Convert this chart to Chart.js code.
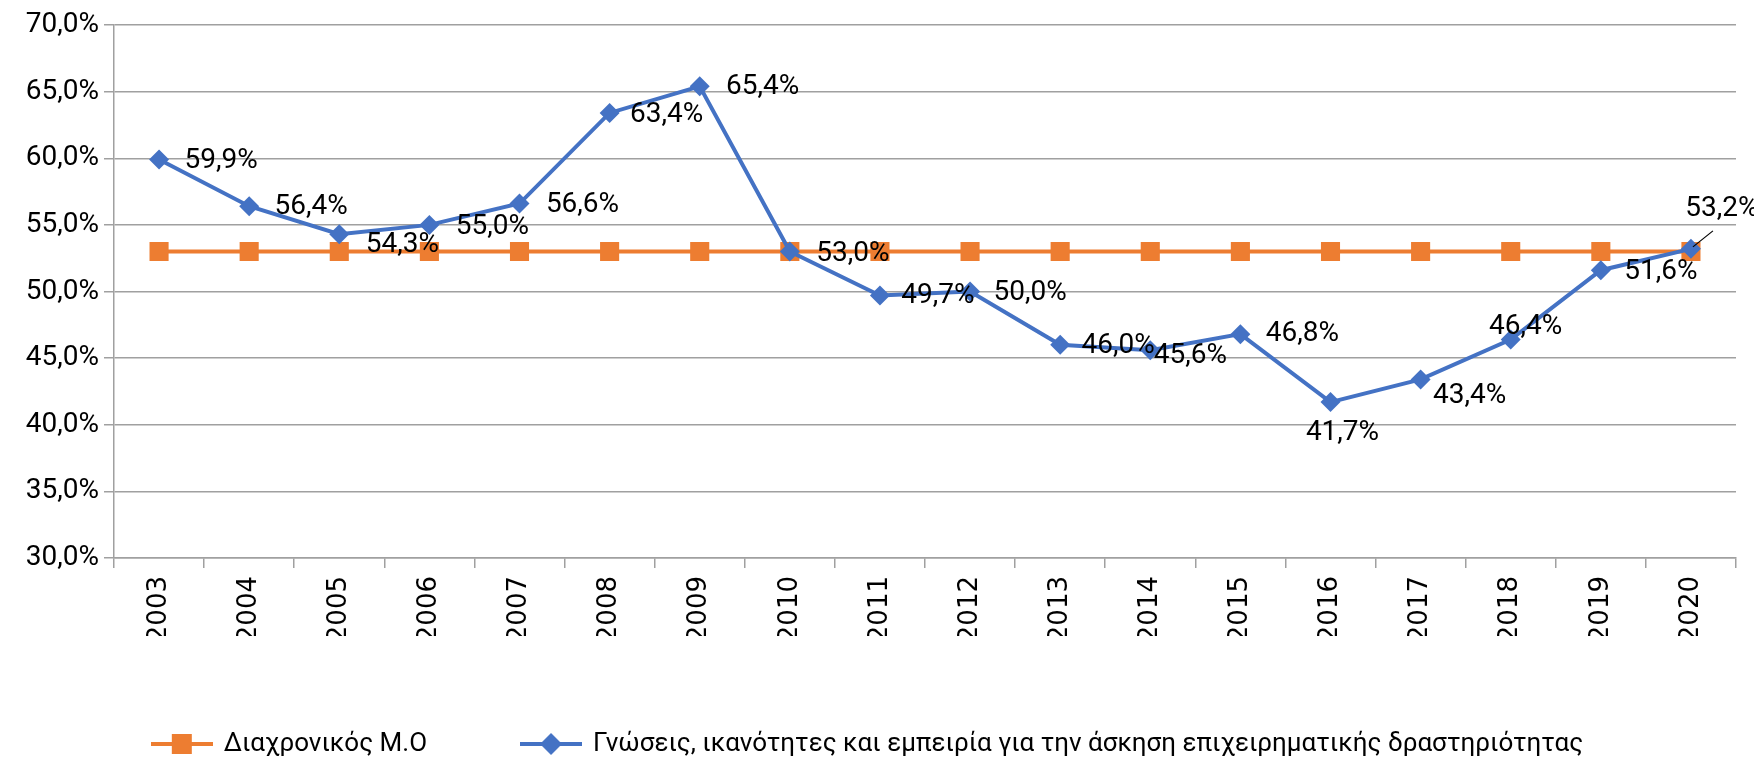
<!DOCTYPE html>
<html>
<head>
<meta charset="utf-8">
<script src="https://cdn.jsdelivr.net/npm/chart.js@4.4.1/dist/chart.umd.min.js"></script>
<style>
  html, body { margin: 0; padding: 0; background: #fff; }
  #contenedor { width: 1754px; height: 758px; }
</style>
</head>
<body>
<div id="contenedor"><canvas id="grafica"></canvas></div>
<script>
// Datos
const anios = ["2003", "2004", "2005", "2006", "2007", "2008", "2009", "2010", "2011",
               "2012", "2013", "2014", "2015", "2016", "2017", "2018", "2019", "2020"];
const mediaDiachronikos = [53.0, 53.0, 53.0, 53.0, 53.0, 53.0, 53.0, 53.0, 53.0,
                           53.0, 53.0, 53.0, 53.0, 53.0, 53.0, 53.0, 53.0, 53.0];
const gnoseis = [59.9, 56.4, 54.3, 55.0, 56.6, 63.4, 65.4, 53.0, 49.7,
                 50.0, 46.0, 45.6, 46.8, 41.7, 43.4, 46.4, 51.6, 53.2];
const ejeYMin = 30;
const ejeYMax = 70;
const ejeYPaso = 5;

const nombreMedia = "Διαχρονικός Μ.Ο";
const nombreGnoseis = "Γνώσεις, ικανότητες και εμπειρία για την άσκηση επιχειρηματικής δραστηριότητας";

const naranja = "#ED7D31";
const azul = "#4472C4";
const gris = "#a0a0a0";

const formato = v => v.toFixed(1).replace(".", ",") + "%";

// desplazamiento de cada etiqueta respecto a su punto (px)
const desplazamientos = [[62, 1], [62, 1], [63, 11], [63, 2], [63, 1], [57, 2], [63, 1], [63, 2], [58, 1],
                         [60, 1], [58, 1], [40, 6], [62, 0], [12, 31], [49, 17], [15, -12], [60, 2], [31, -40]];

// marcador de la leyenda: línea con el símbolo en medio
function marcaLeyenda(color, forma) {
  const c = document.createElement("canvas");
  c.width = 62; c.height = 24;
  const ctx = c.getContext("2d");
  ctx.strokeStyle = color;
  ctx.lineWidth = 4;
  ctx.beginPath(); ctx.moveTo(0, 12); ctx.lineTo(62, 12); ctx.stroke();
  ctx.fillStyle = color;
  if (forma === "cuadro") {
    ctx.fillRect(21, 2, 20, 20);
  } else {
    ctx.beginPath();
    ctx.moveTo(31, 1); ctx.lineTo(42, 12); ctx.lineTo(31, 23); ctx.lineTo(20, 12);
    ctx.closePath(); ctx.fill();
  }
  return c;
}
const marcas = [marcaLeyenda(naranja, "cuadro"), marcaLeyenda(azul, "rombo")];

const etiquetasDatos = {
  id: "etiquetasDatos",
  afterDatasetsDraw(chart) {
    const meta = chart.getDatasetMeta(1);
    const ctx = chart.ctx;
    ctx.save();
    ctx.font = "28px Roboto";
    ctx.fillStyle = "#000";
    ctx.textAlign = "center";
    ctx.textBaseline = "middle";
    meta.data.forEach((p, i) => {
      const [dx, dy] = desplazamientos[i];
      ctx.fillText(formato(gnoseis[i]), p.x + dx, p.y + dy);
    });
    // línea guía de la última etiqueta
    const ult = meta.data[meta.data.length - 1];
    ctx.strokeStyle = "#000";
    ctx.lineWidth = 1.2;
    ctx.beginPath();
    ctx.moveTo(ult.x + 2, ult.y - 2);
    ctx.lineTo(ult.x + 22, ult.y - 18);
    ctx.stroke();
    ctx.restore();
  }
};

new Chart(document.querySelector("#grafica"), {
  type: "line",
  data: {
    labels: anios,
    datasets: [
      {
        label: nombreMedia,
        data: mediaDiachronikos,
        borderColor: naranja,
        backgroundColor: naranja,
        borderWidth: 4,
        pointStyle: "rect",
        pointRadius: 13.5,
        pointBorderWidth: 0,
        order: 1
      },
      {
        label: nombreGnoseis,
        data: gnoseis,
        borderColor: azul,
        backgroundColor: azul,
        borderWidth: 4,
        pointStyle: "rectRot",
        pointRadius: 10,
        pointBorderWidth: 0,
        order: 0
      }
    ]
  },
  options: {
    responsive: true,
    maintainAspectRatio: false,
    animation: false,
    layout: { padding: { top: 25, right: 18, left: 0, bottom: 0 } },
    plugins: {
      tooltip: { enabled: false },
      legend: {
        position: "bottom",
        maxHeight: 122,
        labels: {
          usePointStyle: true,
          pointStyleWidth: 58,
          padding: 95,
          color: "#000",
          font: { family: "Roboto", size: 26 },
          generateLabels: chart => chart.data.datasets.map((ds, i) => ({
            text: ds.label,
            pointStyle: marcas[i],
            fillStyle: ds.borderColor,
            strokeStyle: ds.borderColor,
            fontColor: "#000",
            lineWidth: 0,
            hidden: false,
            datasetIndex: i
          }))
        }
      }
    },
    scales: {
      x: {
        offset: true,
        grid: { offset: true, drawOnChartArea: false, tickLength: 10, color: gris, lineWidth: 1.5 },
        border: { color: gris, width: 1.5 },
        ticks: {
          minRotation: 90, maxRotation: 90, autoSkip: false, padding: 8,
          color: "#000", font: { family: "DejaVu Sans", size: 26 }
        },
        afterFit(scale) { scale.height = 78; }
      },
      y: {
        min: ejeYMin,
        max: ejeYMax,
        grid: { color: gris, lineWidth: 1.5, tickLength: 10 },
        border: { color: gris, width: 1.5 },
        ticks: {
          stepSize: ejeYPaso, padding: 5, color: "#000",
          font: { family: "Roboto", size: 28 },
          callback: v => formato(v)
        },
        afterFit(scale) { scale.width = 114; }
      }
    }
  },
  plugins: [etiquetasDatos]
});
</script>
</body>
</html>
